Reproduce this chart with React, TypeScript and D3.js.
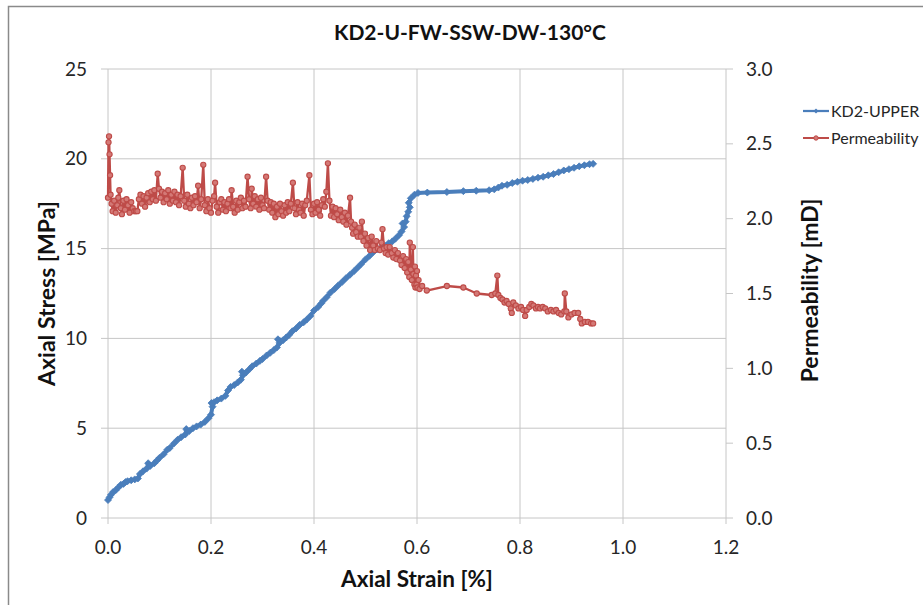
import React from "react";
import * as d3 from "d3";

const titleText = "KD2-U-FW-SSW-DW-130°C";
const xTicks = [0, 0.2, 0.4, 0.6, 0.8, 1.0, 1.2];
const yLeftTicks = [0, 5, 10, 15, 20, 25];
const yRightTicks = [0, 0.5, 1.0, 1.5, 2.0, 2.5, 3.0];
const seriesNames = ["KD2-UPPER", "Permeability"];

const stressStrain = [0,0.003,0.006,0.010,0.015,0.020,0.025,0.030,0.034,0.038,0.045,0.052,0.058,0.062,0.068,0.075,0.080,0.078,0.082,0.090,0.095,0.100,0.108,0.115,0.120,0.128,0.135,0.142,0.150,0.154,0.152,0.158,0.165,0.172,0.180,0.188,0.195,0.200,0.203,0.201,0.206,0.212,0.220,0.228,0.233,0.238,0.245,0.252,0.258,0.262,0.260,0.268,0.275,0.280,0.288,0.295,0.300,0.308,0.315,0.322,0.328,0.333,0.330,0.340,0.346,0.352,0.358,0.365,0.372,0.380,0.386,0.393,0.400,0.408,0.414,0.418,0.425,0.432,0.440,0.447,0.455,0.462,0.470,0.478,0.485,0.492,0.500,0.508,0.515,0.522,0.530,0.538,0.545,0.552,0.558,0.565,0.570,0.575,0.572,0.578,0.580,0.583,0.586,0.584,0.588,0.595,0.602,0.620,0.658,0.690,0.715,0.740,0.750,0.758,0.765,0.775,0.785,0.795,0.805,0.815,0.825,0.835,0.845,0.855,0.865,0.875,0.885,0.895,0.905,0.915,0.925,0.935,0.942];
const stressValues = [1.00,1.15,1.30,1.45,1.55,1.70,1.85,1.90,2.00,2.05,2.10,2.15,2.20,2.45,2.60,2.75,2.95,3.05,2.90,3.05,3.20,3.35,3.55,3.80,3.90,4.15,4.35,4.50,4.65,4.85,4.95,4.85,5.00,5.10,5.20,5.35,5.55,5.75,6.20,6.40,6.45,6.55,6.65,6.80,7.10,7.30,7.40,7.55,7.70,7.95,8.15,8.10,8.30,8.45,8.60,8.75,8.85,9.05,9.20,9.35,9.50,9.75,9.95,9.90,10.05,10.20,10.40,10.55,10.75,10.90,11.05,11.25,11.55,11.75,11.95,12.10,12.30,12.55,12.75,12.95,13.15,13.35,13.55,13.75,13.95,14.15,14.40,14.60,14.80,14.95,15.05,15.15,15.30,15.40,15.55,15.75,15.95,16.20,16.40,16.50,16.80,17.05,17.30,17.55,17.80,18.00,18.10,18.12,18.15,18.20,18.22,18.25,18.30,18.40,18.50,18.55,18.65,18.72,18.78,18.82,18.88,18.95,19.00,19.08,19.15,19.25,19.35,19.42,19.50,19.58,19.64,19.70,19.72];

const permStrain = [0.000,0.001,0.002,0.003,0.004,0.005,0.007,0.009,0.012,0.015,0.018,0.020,0.022,0.025,0.027,0.030,0.033,0.036,0.039,0.042,0.045,0.048,0.051,0.054,0.057,0.060,0.063,0.066,0.069,0.072,0.075,0.078,0.081,0.084,0.087,0.090,0.093,0.0965,0.099,0.102,0.105,0.108,0.111,0.114,0.117,0.120,0.123,0.126,0.129,0.132,0.135,0.138,0.141,0.145,0.148,0.151,0.154,0.157,0.160,0.163,0.166,0.169,0.172,0.175,0.178,0.181,0.185,0.188,0.191,0.194,0.197,0.200,0.203,0.206,0.208,0.211,0.214,0.217,0.220,0.223,0.226,0.229,0.232,0.235,0.238,0.240,0.243,0.246,0.249,0.252,0.255,0.258,0.261,0.264,0.267,0.271,0.274,0.277,0.279,0.282,0.285,0.288,0.291,0.294,0.297,0.300,0.303,0.307,0.310,0.313,0.316,0.319,0.322,0.325,0.328,0.331,0.334,0.337,0.340,0.343,0.346,0.349,0.352,0.355,0.359,0.362,0.365,0.368,0.371,0.374,0.377,0.380,0.383,0.386,0.391,0.394,0.397,0.400,0.403,0.406,0.409,0.412,0.415,0.418,0.421,0.424,0.427,0.430,0.433,0.436,0.439,0.442,0.445,0.448,0.451,0.454,0.457,0.460,0.463,0.466,0.470,0.472,0.474,0.476,0.479,0.482,0.485,0.488,0.491,0.493,0.496,0.499,0.502,0.505,0.509,0.512,0.515,0.518,0.521,0.524,0.528,0.531,0.533,0.536,0.539,0.541,0.544,0.547,0.551,0.554,0.557,0.560,0.563,0.567,0.570,0.573,0.576,0.579,0.581,0.583,0.585,0.586,0.588,0.590,0.592,0.593,0.595,0.596,0.597,0.598,0.599,0.600,0.601,0.603,0.605,0.610,0.619,0.658,0.690,0.716,0.745,0.752,0.756,0.758,0.762,0.766,0.770,0.774,0.778,0.782,0.784,0.787,0.792,0.797,0.802,0.806,0.810,0.813,0.818,0.822,0.826,0.831,0.835,0.839,0.844,0.849,0.854,0.860,0.865,0.870,0.875,0.880,0.886,0.887,0.890,0.894,0.900,0.906,0.913,0.917,0.920,0.926,0.932,0.938,0.942];
const permValues = [2.14,2.51,2.55,2.43,2.29,2.16,2.10,2.05,2.12,2.04,2.09,2.14,2.19,2.07,2.03,2.12,2.06,2.13,2.09,2.04,2.11,2.07,2.05,2.05,2.05,2.13,2.16,2.10,2.15,2.08,2.14,2.17,2.11,2.18,2.13,2.19,2.12,2.30,2.20,2.14,2.18,2.11,2.17,2.13,2.19,2.10,2.16,2.12,2.18,2.11,2.16,2.09,2.15,2.34,2.12,2.08,2.16,2.10,2.07,2.14,2.09,2.15,2.11,2.22,2.07,2.13,2.36,2.09,2.05,2.13,2.07,2.04,2.12,2.15,2.24,2.08,2.04,2.11,2.13,2.06,2.11,2.05,2.10,2.13,2.07,2.19,2.08,2.04,2.12,2.06,2.11,2.14,2.07,2.12,2.08,2.28,2.13,2.07,2.20,2.10,2.15,2.08,2.13,2.06,2.14,2.09,2.07,2.28,2.12,2.06,2.11,2.04,2.10,2.01,2.08,2.03,2.10,2.05,2.02,2.09,2.04,2.11,2.05,2.10,2.24,2.07,2.03,2.11,2.06,2.04,2.10,2.02,2.09,2.12,2.29,2.06,2.03,2.10,2.04,2.11,2.06,2.02,2.09,2.13,2.08,2.18,2.37,2.12,2.02,2.08,2.01,2.07,2.03,1.99,2.06,2.01,1.98,2.04,1.96,2.02,2.14,1.98,1.94,1.90,1.96,1.91,1.88,1.94,1.88,1.98,1.85,1.90,1.82,1.87,1.79,1.88,1.82,1.79,1.85,1.80,1.79,1.84,1.93,1.80,1.77,1.81,1.76,1.81,1.77,1.74,1.79,1.73,1.77,1.72,1.69,1.75,1.67,1.73,1.64,1.71,1.61,1.84,1.66,1.59,1.81,1.63,1.56,1.68,1.54,1.62,1.56,1.65,1.54,1.59,1.53,1.55,1.52,1.55,1.54,1.50,1.49,1.50,1.62,1.49,1.47,1.46,1.44,1.45,1.43,1.40,1.37,1.44,1.42,1.40,1.41,1.39,1.35,1.39,1.41,1.43,1.42,1.40,1.41,1.40,1.41,1.40,1.38,1.39,1.38,1.39,1.37,1.36,1.38,1.50,1.38,1.34,1.36,1.37,1.37,1.33,1.30,1.31,1.31,1.30,1.30];

const W = 923;
const H = 605;
const plot = { left: 108, right: 726, top: 69, bottom: 518 };
const blue = "#4a7ebb";
const red = "#be4b48";
const grid = "#c6c6c6";
const font = "Lato, 'Open Sans', sans-serif";

export default function App() {
  const x = d3.scaleLinear().domain([0, 1.2]).range([plot.left, plot.right]);
  const yL = d3.scaleLinear().domain([0, 25]).range([plot.bottom, plot.top]);
  const yR = d3.scaleLinear().domain([0, 3]).range([plot.bottom, plot.top]);

  const blueData = stressStrain.map((s, i) => [s, stressValues[i]] as [number, number]);
  const redData = permStrain.map((s, i) => [s, permValues[i]] as [number, number]);

  const blueLine = d3.line<[number, number]>().x((d) => x(d[0])).y((d) => yL(d[1]))(blueData) || "";
  const redLine = d3.line<[number, number]>().x((d) => x(d[0])).y((d) => yR(d[1]))(redData) || "";

  const diamond = (cx: number, cy: number, r: number) =>
    `M${cx},${cy - r}L${cx + r},${cy}L${cx},${cy + r}L${cx - r},${cy}Z`;

  return (
    <svg
      width={W}
      height={H}
      style={{ position: "absolute", left: 0, top: 0, background: "#fff" }}
      fontFamily={font}
    >
      <rect x={8.5} y={6.5} width={W} height={H} fill="#fff" stroke="#8a8a8a" strokeWidth={1.5} />

      {yLeftTicks.map((t) => (
        <line key={"gy" + t} x1={plot.left - 7} x2={plot.right} y1={yL(t)} y2={yL(t)} stroke={grid} strokeWidth={1} />
      ))}
      {xTicks.map((t) => (
        <line key={"gx" + t} x1={x(t)} x2={x(t)} y1={plot.top} y2={plot.bottom + 6} stroke={grid} strokeWidth={1} />
      ))}
      {yRightTicks.map((t) => (
        <line key={"ry" + t} x1={plot.right} x2={plot.right + 7} y1={yR(t)} y2={yR(t)} stroke={grid} strokeWidth={1} />
      ))}

      {yLeftTicks.map((t) => (
        <text key={"ly" + t} x={plot.left - 21} y={yL(t)} dy="0.35em" textAnchor="end" fontSize={19} fill="#262626">
          {t}
        </text>
      ))}
      {yRightTicks.map((t) => (
        <text key={"ryl" + t} x={plot.right + 20} y={yR(t)} dy="0.35em" textAnchor="start" fontSize={19} fill="#262626">
          {t.toFixed(1)}
        </text>
      ))}
      {xTicks.map((t) => (
        <text key={"lx" + t} x={x(t)} y={plot.bottom + 36} textAnchor="middle" fontSize={19} fill="#262626">
          {t.toFixed(1)}
        </text>
      ))}

      <path d={blueLine} fill="none" stroke={blue} strokeWidth={4} strokeLinejoin="round" />
      {blueData.map((d, i) => (
        <path key={"bm" + i} d={diamond(x(d[0]), yL(d[1]), 3.5)} fill={blue} stroke={blue} strokeWidth={0.8} />
      ))}
      <path d={redLine} fill="none" stroke={red} strokeWidth={2.3} strokeLinejoin="round" />
      {redData.map((d, i) => (
        <circle key={"rm" + i} cx={x(d[0])} cy={yR(d[1])} r={2.6} fill="#d47976" stroke={red} strokeWidth={1.1} />
      ))}

      <text x={470} y={40} textAnchor="middle" fontSize={21} fontWeight="bold" fill="#111">
        {titleText}
      </text>
      <text x={417} y={587} textAnchor="middle" fontSize={22.5} fontWeight="bold" fill="#111">
        Axial Strain [%]
      </text>
      <text transform={`translate(55,${(plot.top + plot.bottom) / 2}) rotate(-90)`} textAnchor="middle" fontSize={23} fontWeight="bold" fill="#111">
        Axial Stress [MPa]
      </text>
      <text transform={`translate(818,${(plot.top + plot.bottom) / 2 - 3}) rotate(-90)`} textAnchor="middle" fontSize={23} fontWeight="bold" fill="#111">
        Permeability [mD]
      </text>

      <line x1={803} x2={829} y1={111} y2={111} stroke={blue} strokeWidth={2.25} />
      <path d={diamond(816, 111, 2.5)} fill={blue} />
      <text x={831} y={111} dy="0.35em" fontSize={16} fill="#262626">
        {seriesNames[0]}
      </text>
      <line x1={803} x2={829} y1={138} y2={138} stroke={red} strokeWidth={2} />
      <circle cx={816} cy={138} r={2.2} fill="#d47976" stroke={red} strokeWidth={1} />
      <text x={831} y={138} dy="0.35em" fontSize={16} fill="#262626">
        {seriesNames[1]}
      </text>
    </svg>
  );
}
